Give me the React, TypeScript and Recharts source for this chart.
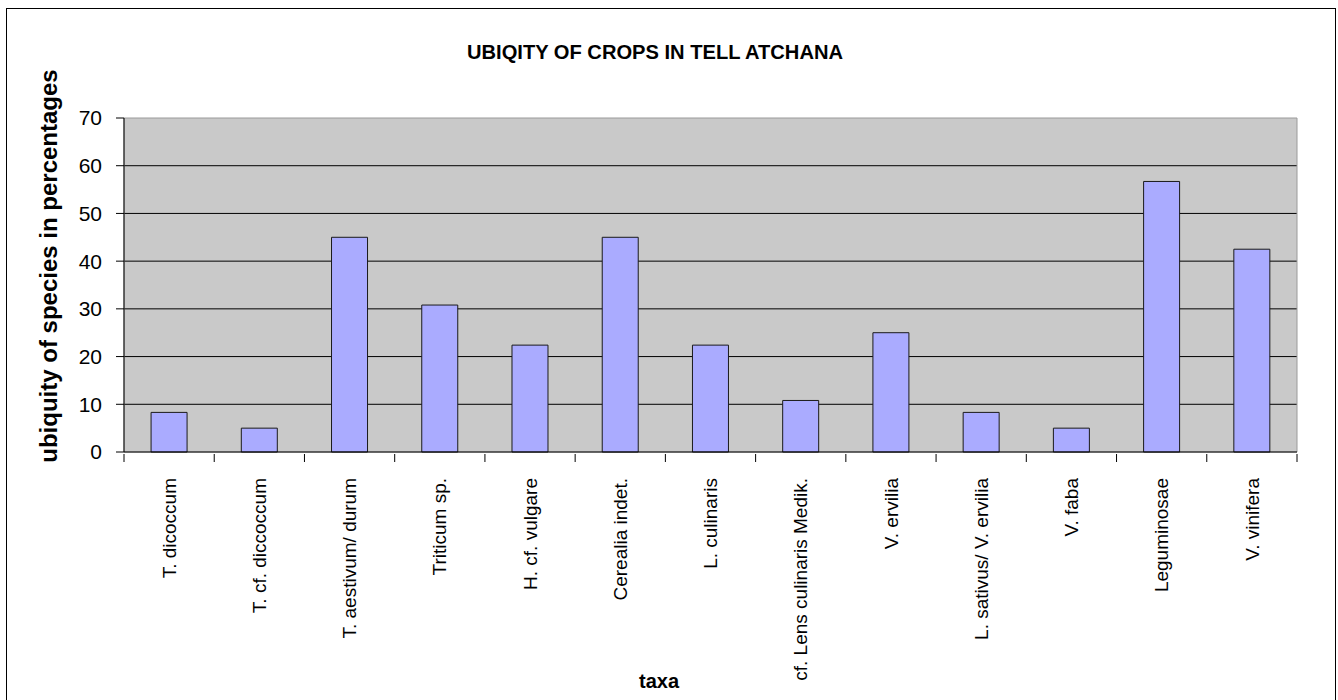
import React from 'react';
import {
  BarChart, Bar, XAxis, YAxis, CartesianGrid, ReferenceArea,
} from 'recharts';

const taxa = [
  'T.  dicoccum',
  'T. cf.  diccoccum',
  'T. aestivum/ durum',
  'Triticum sp.',
  'H. cf. vulgare',
  'Cerealia indet.',
  'L.  culinaris',
  'cf. Lens culinaris Medik.',
  'V. ervilia',
  'L. sativus/ V. ervilia',
  'V. faba',
  'Leguminosae',
  'V. vinifera',
];

const ubiquity = [8.3, 5, 45, 30.8, 22.4, 45, 22.4, 10.8, 25, 8.3, 5, 56.7, 42.5];

const yTicks = [0, 10, 20, 30, 40, 50, 60, 70];
const gridValues = [10, 20, 30, 40, 50, 60];

const data = taxa.map((name, i) => ({ name, value: ubiquity[i] }));

const FONT = "Arial, 'Liberation Sans', sans-serif";

const CHART_W = 1328;
const MARGIN = { top: 109, right: 38, left: 57, bottom: 27 };
const Y_W = 60;
const BAND = (CHART_W - MARGIN.left - MARGIN.right - Y_W) / taxa.length;

// label plus the category-boundary tick marks (Excel puts ticks between bars)
const TaxonTick = ({ x, y, payload, index }: any) => {
  const half = payload && payload.offset ? payload.offset : BAND / 2;
  return (
    <g transform={`translate(${x},${y})`}>
      <line x1={-half} y1={0} x2={-half} y2={8} stroke="#000" />
      {index === taxa.length - 1 && (
        <line x1={half} y1={0} x2={half} y2={8} stroke="#000" />
      )}
      <text
        transform="rotate(-90)"
        x={-24}
        dy="0.35em"
        textAnchor="end"
        fontFamily={FONT}
        fontSize={19}
        fill="#000"
      >
        {payload.value}
      </text>
    </g>
  );
};

export default function App() {
  return (
    <div style={{
      position: 'absolute', left: 6, top: 8,
      width: 1330, height: 760,
      border: '1px solid #000', boxSizing: 'border-box',
      background: '#fff', overflow: 'hidden',
    }}>
      <BarChart
        width={CHART_W}
        height={700}
        data={data}
        margin={MARGIN}
        barCategoryGap="30%"
      >
        <text x={648} y={50} textAnchor="middle" fontFamily={FONT} fontWeight={700}
          fontSize={21} textLength={376} lengthAdjust="spacingAndGlyphs" fill="#000">
          UBIQITY OF CROPS IN TELL ATCHANA
        </text>
        <text transform="translate(50,257) rotate(-90)" textAnchor="middle" fontFamily={FONT}
          fontWeight={700} fontSize={24} fill="#000">
          ubiquity of species in percentages
        </text>
        <text x={652} y={679} textAnchor="middle" fontFamily={FONT} fontWeight={700}
          fontSize={20} fill="#000">
          taxa
        </text>
        <CartesianGrid
          fill="#C9C9C9"
          stroke="#000"
          vertical={false}
          horizontalValues={gridValues}
        />
        <ReferenceArea y1={0} y2={70} fill="none" stroke="#9a9a9a" strokeWidth={1} />
        <XAxis
          dataKey="name"
          type="category"
          interval={0}
          height={230}
          axisLine={{ stroke: '#000' }}
          tickLine={false}
          tickSize={0}
          tick={<TaxonTick />}
        />
        <YAxis
          domain={[0, 70]}
          ticks={yTicks}
          width={Y_W}
          tickSize={8}
          tickMargin={14}
          axisLine={{ stroke: '#000' }}
          tickLine={{ stroke: '#000' }}
          tick={{ fill: '#000', fontSize: 21, fontFamily: FONT }}
        />
        <Bar
          dataKey="value"
          fill="#AAABFF"
          stroke="#1a1a1a"
          strokeWidth={1}
          isAnimationActive={false}
        />
      </BarChart>
    </div>
  );
}
